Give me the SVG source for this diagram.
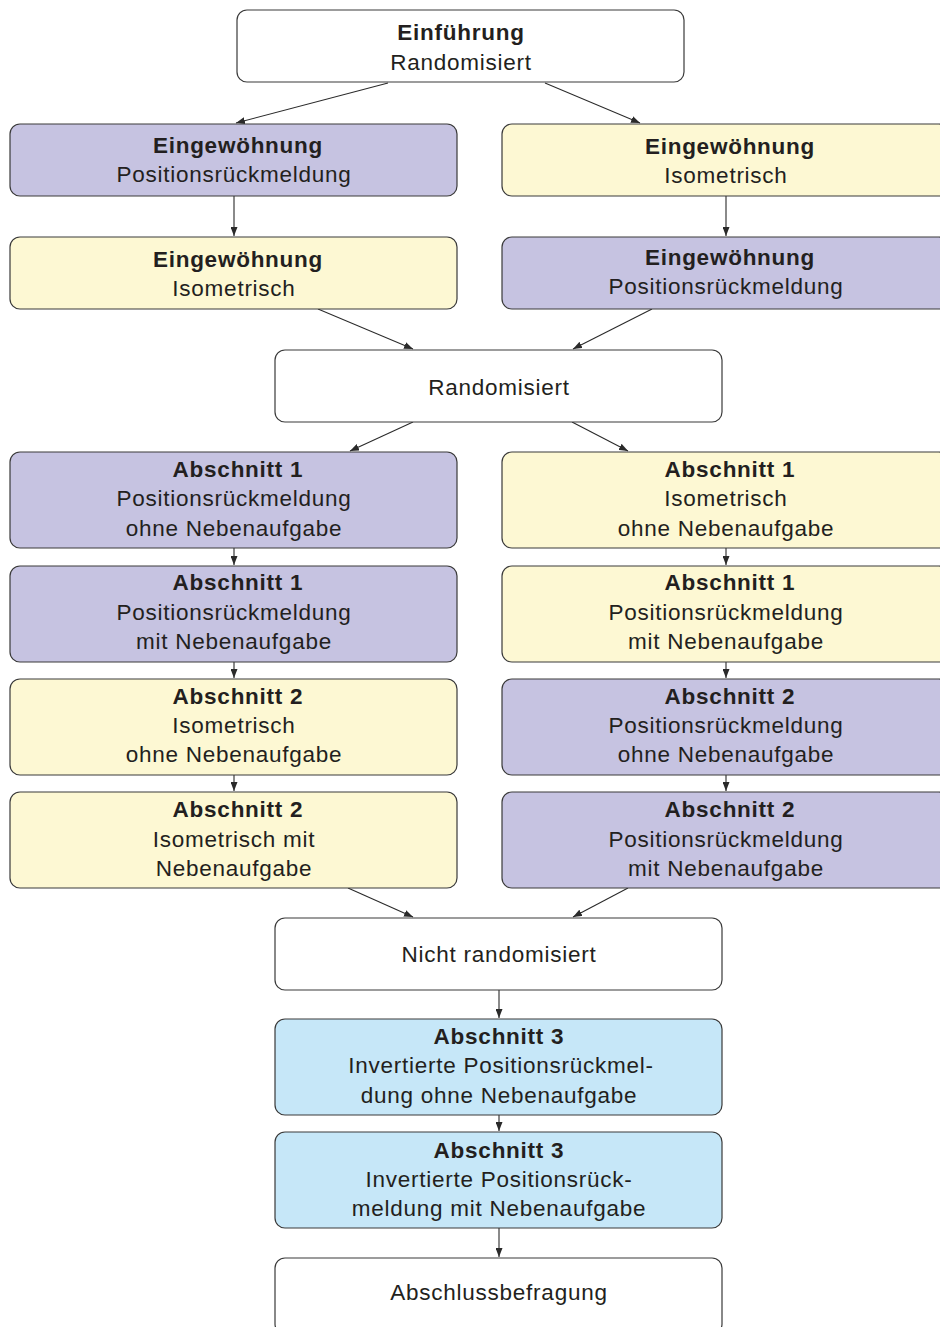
<svg xmlns="http://www.w3.org/2000/svg" width="940" height="1327" viewBox="0 0 940 1327">
  <style>
    .box { stroke: #3a3a3a; stroke-width: 1.2; }
    .white { fill: #ffffff; }
    .purple { fill: #c6c3e1; }
    .yellow { fill: #fdf8d3; }
    .blue { fill: #c6e7f8; }
    text { font-family: "Liberation Sans", Arial, sans-serif; font-size: 22.5px; fill: #231f20; text-anchor: middle; letter-spacing: 0.75px; }
    .b { font-weight: bold; }
    .conn { stroke: #2a2a2a; stroke-width: 1.1; fill: none; marker-end: url(#arr); }
  </style>
  <defs>
    <marker id="arr" markerWidth="9" markerHeight="7" refX="9" refY="3.5" orient="auto" markerUnits="userSpaceOnUse">
      <path d="M0,0 L9,3.5 L0,7 z" fill="#2a2a2a"/>
    </marker>
  </defs>

  <rect width="940" height="1327" fill="#ffffff"/>

  <g id="connectors">
    <line class="conn" x1="388" y1="83" x2="236" y2="123"/>
    <line class="conn" x1="545" y1="83" x2="640" y2="123"/>
    <line class="conn" x1="234" y1="196" x2="234" y2="236"/>
    <line class="conn" x1="726" y1="196" x2="726" y2="236"/>
    <line class="conn" x1="318" y1="309" x2="413" y2="349"/>
    <line class="conn" x1="652" y1="309" x2="573" y2="349"/>
    <line class="conn" x1="413" y1="422" x2="350" y2="451"/>
    <line class="conn" x1="572" y1="422" x2="628" y2="451"/>
    <line class="conn" x1="234" y1="548" x2="234" y2="565"/>
    <line class="conn" x1="726" y1="548" x2="726" y2="565"/>
    <line class="conn" x1="234" y1="662" x2="234" y2="678"/>
    <line class="conn" x1="726" y1="662" x2="726" y2="678"/>
    <line class="conn" x1="234" y1="775" x2="234" y2="791"/>
    <line class="conn" x1="726" y1="775" x2="726" y2="791"/>
    <line class="conn" x1="348" y1="888" x2="413" y2="917"/>
    <line class="conn" x1="628" y1="888" x2="573" y2="917"/>
    <line class="conn" x1="499" y1="990" x2="499" y2="1018"/>
    <line class="conn" x1="499" y1="1115" x2="499" y2="1131"/>
    <line class="conn" x1="499" y1="1228" x2="499" y2="1257"/>
  </g>

  <g id="einfuehrung">
    <rect class="box white" x="237" y="10" width="447" height="72" rx="10"/>
    <text class="b" x="461" y="40">Einführung</text>
    <text x="461" y="70">Randomisiert</text>
  </g>

  <g id="eingew-l1">
    <rect class="box purple" x="10" y="124" width="447" height="72" rx="10"/>
    <text class="b" x="238" y="153">Eingewöhnung</text>
    <text x="234" y="182">Positionsrückmeldung</text>
  </g>
  <g id="eingew-r1">
    <rect class="box yellow" x="502" y="124" width="447" height="72" rx="10"/>
    <text class="b" x="730" y="154">Eingewöhnung</text>
    <text x="726" y="183">Isometrisch</text>
  </g>
  <g id="eingew-l2">
    <rect class="box yellow" x="10" y="237" width="447" height="72" rx="10"/>
    <text class="b" x="238" y="267">Eingewöhnung</text>
    <text x="234" y="296">Isometrisch</text>
  </g>
  <g id="eingew-r2">
    <rect class="box purple" x="502" y="237" width="447" height="72" rx="10"/>
    <text class="b" x="730" y="265">Eingewöhnung</text>
    <text x="726" y="294">Positionsrückmeldung</text>
  </g>

  <g id="randomisiert">
    <rect class="box white" x="275" y="350" width="447" height="72" rx="10"/>
    <text x="499" y="395">Randomisiert</text>
  </g>

  <g id="abs1-l-ohne">
    <rect class="box purple" x="10" y="452" width="447" height="96" rx="10"/>
    <text class="b" x="238" y="477">Abschnitt 1</text>
    <text x="234" y="506">Positionsrückmeldung</text>
    <text x="234" y="536">ohne Nebenaufgabe</text>
  </g>
  <g id="abs1-r-ohne">
    <rect class="box yellow" x="502" y="452" width="447" height="96" rx="10"/>
    <text class="b" x="730" y="477">Abschnitt 1</text>
    <text x="726" y="506">Isometrisch</text>
    <text x="726" y="536">ohne Nebenaufgabe</text>
  </g>
  <g id="abs1-l-mit">
    <rect class="box purple" x="10" y="566" width="447" height="96" rx="10"/>
    <text class="b" x="238" y="590">Abschnitt 1</text>
    <text x="234" y="620">Positionsrückmeldung</text>
    <text x="234" y="649">mit Nebenaufgabe</text>
  </g>
  <g id="abs1-r-mit">
    <rect class="box yellow" x="502" y="566" width="447" height="96" rx="10"/>
    <text class="b" x="730" y="590">Abschnitt 1</text>
    <text x="726" y="620">Positionsrückmeldung</text>
    <text x="726" y="649">mit Nebenaufgabe</text>
  </g>
  <g id="abs2-l-ohne">
    <rect class="box yellow" x="10" y="679" width="447" height="96" rx="10"/>
    <text class="b" x="238" y="704">Abschnitt 2</text>
    <text x="234" y="733">Isometrisch</text>
    <text x="234" y="762">ohne Nebenaufgabe</text>
  </g>
  <g id="abs2-r-ohne">
    <rect class="box purple" x="502" y="679" width="447" height="96" rx="10"/>
    <text class="b" x="730" y="704">Abschnitt 2</text>
    <text x="726" y="733">Positionsrückmeldung</text>
    <text x="726" y="762">ohne Nebenaufgabe</text>
  </g>
  <g id="abs2-l-mit">
    <rect class="box yellow" x="10" y="792" width="447" height="96" rx="10"/>
    <text class="b" x="238" y="817">Abschnitt 2</text>
    <text x="234" y="847">Isometrisch mit</text>
    <text x="234" y="876">Nebenaufgabe</text>
  </g>
  <g id="abs2-r-mit">
    <rect class="box purple" x="502" y="792" width="447" height="96" rx="10"/>
    <text class="b" x="730" y="817">Abschnitt 2</text>
    <text x="726" y="847">Positionsrückmeldung</text>
    <text x="726" y="876">mit Nebenaufgabe</text>
  </g>

  <g id="nicht-randomisiert">
    <rect class="box white" x="275" y="918" width="447" height="72" rx="10"/>
    <text x="499" y="962">Nicht randomisiert</text>
  </g>

  <g id="abs3-ohne">
    <rect class="box blue" x="275" y="1019" width="447" height="96" rx="10"/>
    <text class="b" x="499" y="1044">Abschnitt 3</text>
    <text x="501" y="1073">Invertierte Positionsrückmel-</text>
    <text x="499" y="1103">dung ohne Nebenaufgabe</text>
  </g>
  <g id="abs3-mit">
    <rect class="box blue" x="275" y="1132" width="447" height="96" rx="10"/>
    <text class="b" x="499" y="1158">Abschnitt 3</text>
    <text x="499" y="1187">Invertierte Positionsrück-</text>
    <text x="499" y="1216">meldung mit Nebenaufgabe</text>
  </g>

  <g id="abschlussbefragung">
    <rect class="box white" x="275" y="1258" width="447" height="76" rx="10"/>
    <text x="499" y="1300">Abschlussbefragung</text>
  </g>
</svg>
